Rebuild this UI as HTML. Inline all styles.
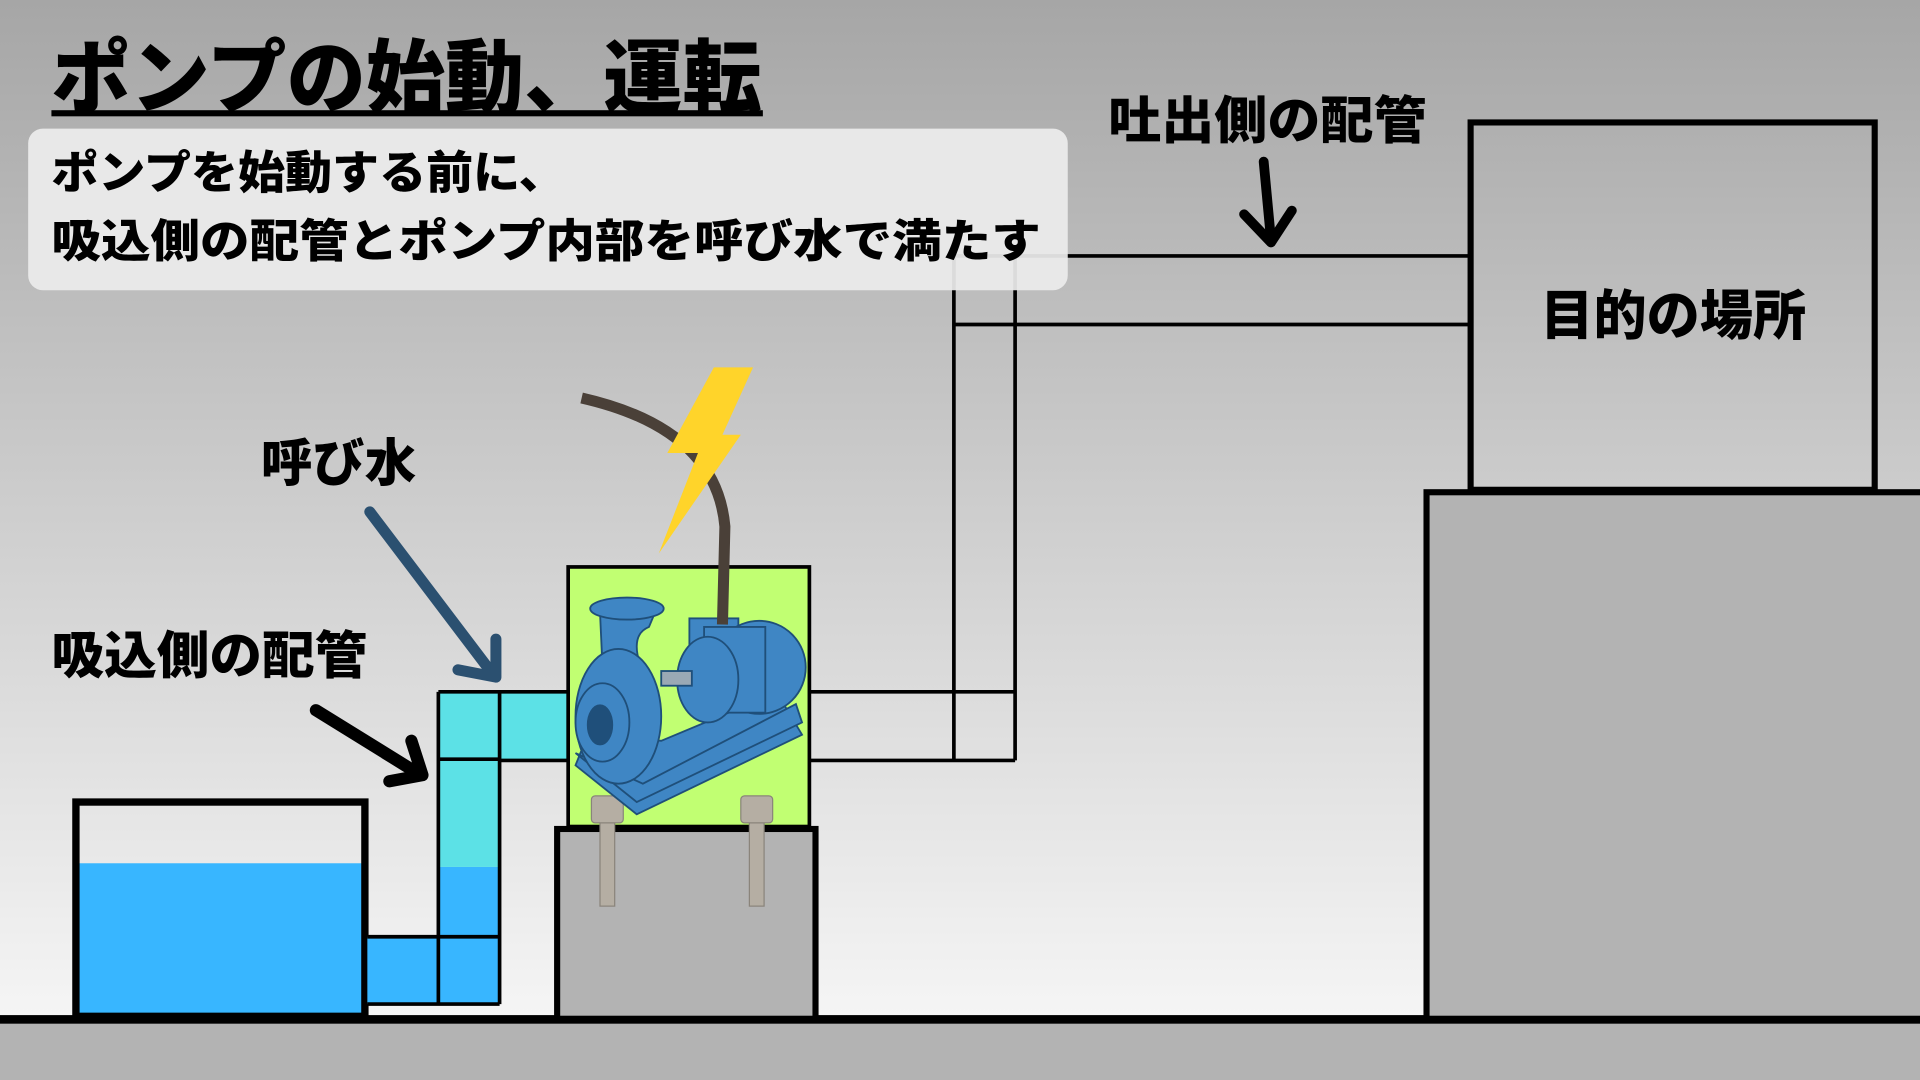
<!DOCTYPE html>
<html><head><meta charset="utf-8"><style>
html,body{margin:0;padding:0;width:1920px;height:1080px;overflow:hidden}
svg{display:block}
text{font-family:"Liberation Sans","Noto Sans CJK JP",sans-serif;font-weight:900;fill:#000}
</style></head><body>
<svg width="1920" height="1080" viewBox="0 0 1568 882" xmlns="http://www.w3.org/2000/svg">
<defs>
<linearGradient id="bg" x1="0" y1="0" x2="0" y2="1">
<stop offset="0" stop-color="#a6a6a6"/><stop offset="1" stop-color="#fafafa"/>
</linearGradient>
</defs>
<rect x="0" y="0" width="1568" height="882" fill="url(#bg)"/>
<rect x="0" y="833" width="1568" height="49" fill="#b3b3b3"/>
<rect x="0" y="829" width="1568" height="7" fill="#000"/>

<g stroke="#000" stroke-width="3" fill="none">
<line x1="779" y1="209" x2="1200" y2="209"/>
<line x1="779" y1="265" x2="1200" y2="265"/>
<line x1="779" y1="209" x2="779" y2="621"/>
<line x1="829" y1="209" x2="829" y2="621"/>
<line x1="662" y1="565" x2="829" y2="565"/>
<line x1="662" y1="621" x2="829" y2="621"/>
</g>

<rect x="1165" y="402" width="410" height="430" fill="#b3b3b3" stroke="#000" stroke-width="5"/>
<rect x="1201" y="100" width="330" height="300" fill="none" stroke="#000" stroke-width="5"/>
<text x="1258" y="273" font-size="44" textLength="217" lengthAdjust="spacingAndGlyphs">目的の場所</text>

<rect x="23" y="105" width="849" height="132" rx="12" fill="#ececec" fill-opacity="0.93"/>
<text x="42" y="154" font-size="37" textLength="420" lengthAdjust="spacingAndGlyphs">ポンプを始動する前に、</text>
<text x="42" y="210" font-size="37" textLength="808" lengthAdjust="spacingAndGlyphs">吸込側の配管とポンプ内部を呼び水で満たす</text>

<text x="42" y="87" font-size="66" textLength="580" lengthAdjust="spacingAndGlyphs">ポンプの始動、運転</text>
<rect x="42" y="90" width="581" height="5" fill="#000"/>

<text x="905" y="113" font-size="42" textLength="260" lengthAdjust="spacingAndGlyphs">吐出側の配管</text>
<g stroke="#000" stroke-width="8" fill="none" stroke-linecap="round" stroke-linejoin="round">
<line x1="1032" y1="132" x2="1038" y2="196"/>
<polyline points="1016,175 1038,198 1055,172"/>
</g>

<rect x="62" y="705" width="236" height="125" fill="#38b6ff"/>
<rect x="62" y="655" width="236" height="175" fill="none" stroke="#000" stroke-width="6"/>

<rect x="300" y="765" width="58" height="55" fill="#38b6ff"/>
<rect x="358" y="708" width="50" height="112" fill="#38b6ff"/>
<rect x="358" y="565" width="50" height="143" fill="#5ce1e6"/>
<rect x="408" y="565" width="55" height="56" fill="#5ce1e6"/>
<g stroke="#000" stroke-width="3" fill="none">
<line x1="358" y1="565" x2="463" y2="565"/>
<line x1="408" y1="621" x2="463" y2="621"/>
<line x1="358" y1="565" x2="358" y2="820"/>
<line x1="408" y1="565" x2="408" y2="820"/>
<line x1="358" y1="620" x2="408" y2="620"/>
<line x1="300" y1="765" x2="408" y2="765"/>
<line x1="300" y1="820" x2="408" y2="820"/>
</g>

<rect x="455" y="677" width="211" height="155" fill="#b3b3b3" stroke="#000" stroke-width="5"/>
<rect x="464" y="463" width="197" height="212" fill="#c1ff72" stroke="#000" stroke-width="3"/>

<g fill="#b5aea3" stroke="#8a847b" stroke-width="1">
<rect x="490" y="660" width="12" height="80"/>
<rect x="483" y="650" width="26" height="22" rx="3"/>
<rect x="612" y="660" width="12" height="80"/>
<rect x="605" y="650" width="26" height="22" rx="3"/>
</g>

<g fill="#3f86c4" stroke="#1f4f7a" stroke-width="1.5">
<polygon points="470,625 520,665 655,600 640,575 600,580 540,605 480,600"/>
<polygon points="470,615 520,655 655,590 650,575 525,640"/>
<rect x="563" y="505" width="40" height="25"/>
<ellipse cx="620" cy="545" rx="38" ry="38"/>
<rect x="575" y="512" width="50" height="70"/>
<ellipse cx="578" cy="555" rx="25" ry="35"/>
<rect x="540" y="548" width="25" height="12" fill="#9aa9b5"/>
<path d="M490,500 L535,500 L530,512 Q510,520 530,560 L520,600 L495,610 Z"/>
<ellipse cx="512" cy="497" rx="30" ry="9"/>
<ellipse cx="505" cy="585" rx="35" ry="55"/>
<ellipse cx="492" cy="590" rx="22" ry="32"/>
<ellipse cx="490" cy="592" rx="10" ry="16" fill="#1f4f7a"/>
</g>

<path d="M475,325 Q585,350 592,430 L590,510" stroke="#4a4038" stroke-width="9" fill="none"/>
<polygon points="583,300 615,300 590,355 605,355 538,452 570,370 545,370" fill="#ffd42a"/>

<text x="213" y="393" font-size="42" textLength="127" lengthAdjust="spacingAndGlyphs">呼び水</text>
<text x="42" y="550" font-size="42" textLength="258" lengthAdjust="spacingAndGlyphs">吸込側の配管</text>

<g stroke="#2b5070" stroke-width="9" fill="none" stroke-linecap="round" stroke-linejoin="round">
<line x1="302" y1="418" x2="402" y2="550"/>
<polyline points="374,547 405,553 405,522"/>
</g>
<g stroke="#000" stroke-width="10" fill="none" stroke-linecap="round" stroke-linejoin="round">
<line x1="258" y1="580" x2="342" y2="632"/>
<polyline points="318,638 345,633 336,605"/>
</g>
</svg>
</body></html>
